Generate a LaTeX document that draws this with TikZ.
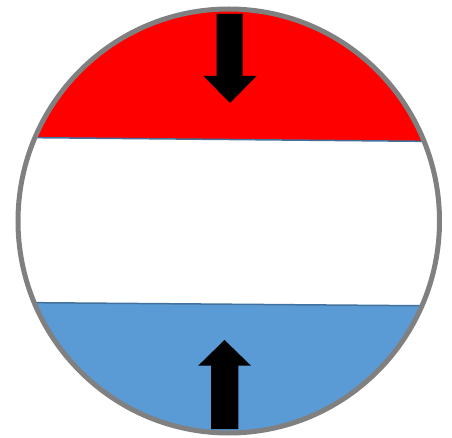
\documentclass[tikz,border=0pt]{standalone}
\usepackage{tikz}
\definecolor{ringgray}{RGB}{128,128,128}
\definecolor{bandblue}{RGB}{91,155,213}
\definecolor{edgeblue}{RGB}{65,113,156}

\begin{document}
\begin{tikzpicture}[x=1pt,y=-1pt,
   band/.style={draw=edgeblue,line width=1.5pt},
   push/.style={fill=black}]
  \useasboundingbox (0,0) rectangle (452,438);
  \coordinate (c) at (228.75,221);
  % coloured bands, cut to the disc
  \begin{scope}
    \clip (c) ellipse [x radius=210.75,y radius=212];
    \fill[red] (0,0) -- (452,0) -- (452,141.6) -- (0,137.35) -- cycle;
    \fill[bandblue] (0,302.4) -- (452,306) -- (452,438) -- (0,438) -- cycle;
    \draw[band] (0,137.35) -- (452,141.6);
    \draw[band] (0,302.4) -- (452,306);
  \end{scope}
  % arrows
  \fill[push] (216.7,14) -- (242.7,14) -- (242.7,76) -- (256.5,76)
       -- (230,103) -- (203.5,76) -- (216.7,76) -- cycle;
  \fill[push] (211,429) -- (238.3,429) -- (238.3,365.7) -- (251,365.7)
       -- (224.5,340) -- (198.2,365.7) -- (211,365.7) -- cycle;
  % rim
  \draw[ringgray,line width=5pt] (c) ellipse [x radius=210.75,y radius=212];
\end{tikzpicture}
\end{document}
